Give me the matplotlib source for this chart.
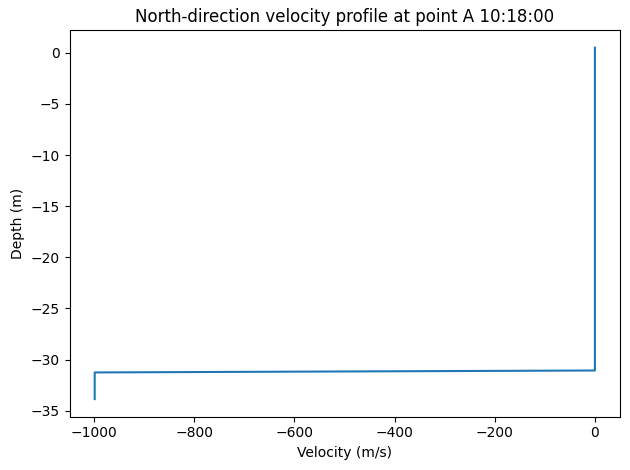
import matplotlib
matplotlib.use("Agg")
import matplotlib.pyplot as plt

# north velocity profile, point A (bottom cells carry the -999 fill value)
depth = [0.5, -5.0, -10.0, -15.0, -20.0, -25.0, -30.0, -31.07, -31.26, -33.87]
velocity = [0.0, 0.0, 0.0, 0.0, 0.0, 0.0, 0.0, 0.0, -999.0, -999.0]

fig, ax = plt.subplots(figsize=(6.3, 4.7), dpi=100)
fig.subplots_adjust(left=0.1106, right=0.984, top=0.936, bottom=0.1134)
ax.plot(velocity, depth, color="#1f77b4")

ax.set_title("North-direction velocity profile at point A 10:18:00")
ax.set_xlabel("Velocity (m/s)")
ax.set_ylabel("Depth (m)")
plt.savefig("out.png", dpi=100)
